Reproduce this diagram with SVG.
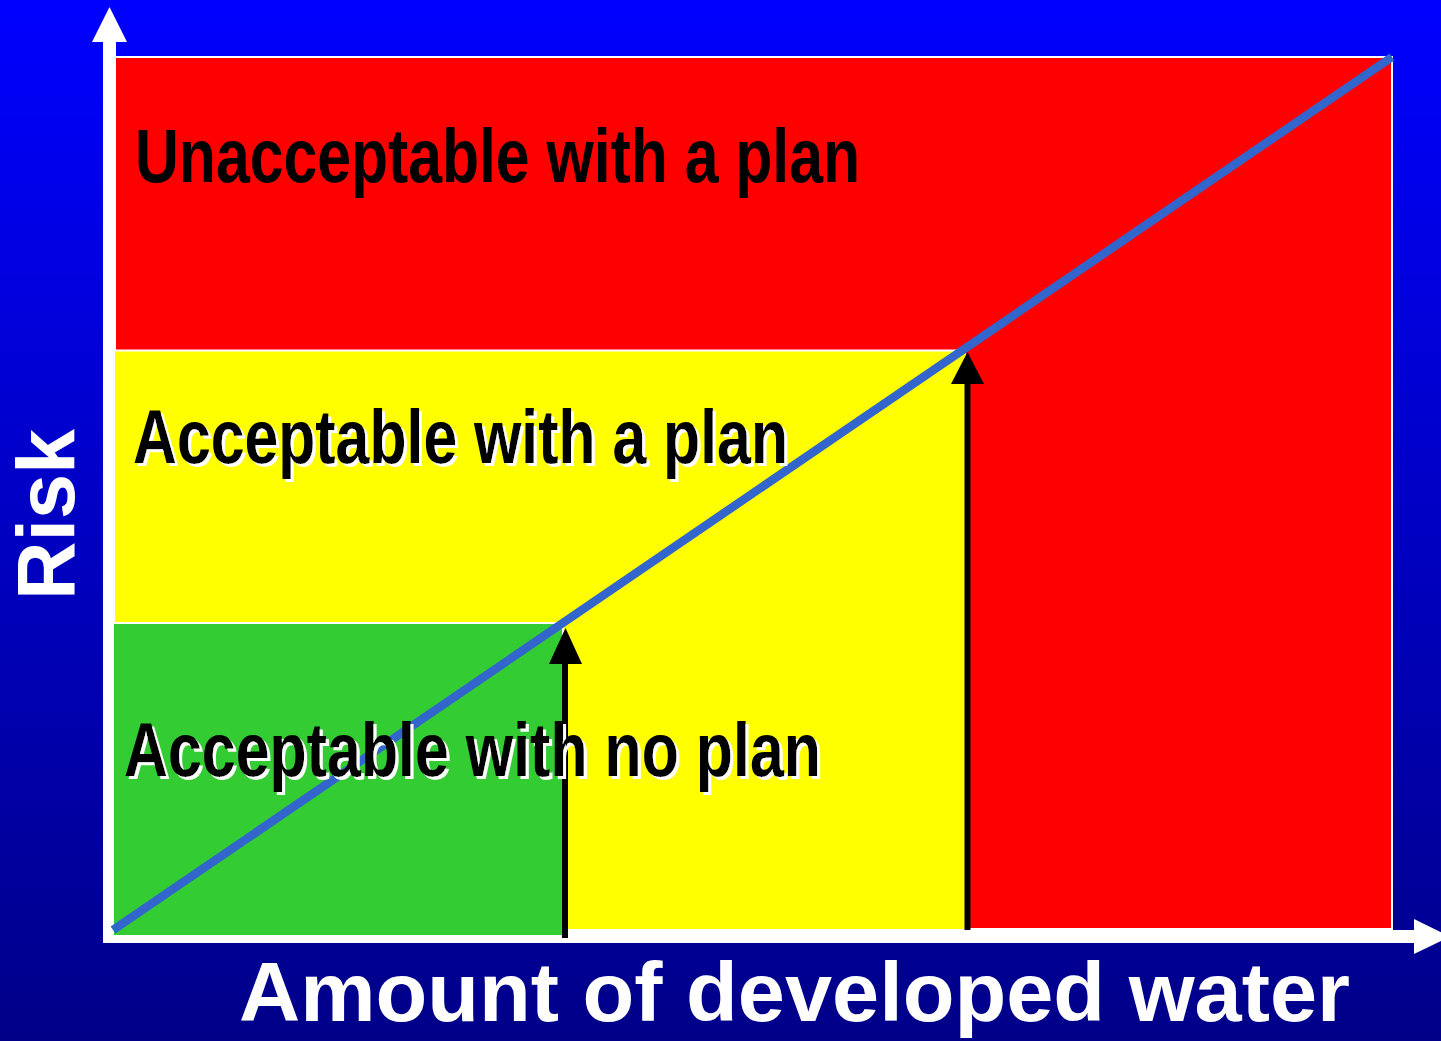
<svg xmlns="http://www.w3.org/2000/svg" width="1441" height="1041" viewBox="0 0 1441 1041">
  <defs>
    <linearGradient id="bg" x1="0" y1="0" x2="0" y2="1">
      <stop offset="0" stop-color="#0000FF"/>
      <stop offset="1" stop-color="#000088"/>
    </linearGradient>
    <filter id="whiteShadow" x="-5%" y="-20%" width="110%" height="140%">
      <feFlood flood-color="#FFFFFF" result="white"/>
      <feComposite in="white" in2="SourceAlpha" operator="in" result="mask"/>
      <feOffset in="mask" dx="3" dy="3" result="shadow"/>
      <feMerge>
        <feMergeNode in="shadow"/>
        <feMergeNode in="SourceGraphic"/>
      </feMerge>
    </filter>
  </defs>
  <style>
    .zone { stroke: #FFFFFF; stroke-width: 2; }
    .axis { stroke: #FFFFFF; stroke-width: 13; fill: none; }
    .axhead { fill: #FFFFFF; }
    .lbl { font-family: "Liberation Sans", Arial, sans-serif; font-weight: bold; font-size: 76px; fill: #000000; }
    .shadowed { filter: url(#whiteShadow); }
    .axlbl { font-family: "Liberation Sans", Arial, sans-serif; font-weight: bold; fill: #FFFFFF; }
    .arrow { stroke: #000000; stroke-width: 6; fill: none; }
    .arrowhead { fill: #000000; }
  </style>
  <rect x="0" y="0" width="1441" height="1041" fill="url(#bg)"/>

  <g id="axes">
    <line class="axis" x1="109.5" y1="943" x2="109.5" y2="40"/>
    <polygon class="axhead" points="92,42 127,42 109.5,7"/>
    <line class="axis" x1="103" y1="936.5" x2="1416" y2="936.5"/>
    <polygon class="axhead" points="1414,919 1414,954 1450,936.5"/>
  </g>

  <g id="zone-unacceptable">
    <rect class="zone" x="115" y="57" width="1277" height="872" fill="#FF0000"/>
  </g>
  <g id="zone-acceptable-plan">
    <rect x="115" y="351" width="851" height="578" fill="#FFFF00"/>
    <line x1="115" y1="350.5" x2="966" y2="350.5" stroke="#FFFFFF" stroke-width="2"/>
  </g>
  <g id="zone-acceptable-noplan">
    <rect class="zone" x="113" y="623" width="450" height="313" fill="#33CC33"/>
  </g>

  <g id="connectors">
    <line x1="113" y1="930" x2="1392" y2="57" stroke="#3366CC" stroke-width="8.5"/>
    <line class="arrow" x1="565" y1="938" x2="565" y2="660"/>
    <polygon class="arrowhead" points="549,664 582,664 565.5,628"/>
    <line class="arrow" x1="967.5" y1="930" x2="967.5" y2="380"/>
    <polygon class="arrowhead" points="951,384 984,384 967.5,352"/>
  </g>

  <g id="label-unacceptable">
    <text class="lbl" x="135" y="182" textLength="725" lengthAdjust="spacingAndGlyphs">Unacceptable with a plan</text>
  </g>
  <g id="label-acceptable-plan">
    <text class="lbl shadowed" x="133" y="463" textLength="655" lengthAdjust="spacingAndGlyphs">Acceptable with a plan</text>
  </g>
  <g id="label-acceptable-noplan">
    <text class="lbl shadowed" x="124" y="776" textLength="697" lengthAdjust="spacingAndGlyphs">Acceptable with no plan</text>
  </g>

  <g id="axis-label-y">
    <text class="axlbl" font-size="81" transform="translate(74,600) rotate(-90)" x="0" y="0">Risk</text>
  </g>
  <g id="axis-label-x">
    <text class="axlbl" font-size="84" x="239" y="1021" textLength="1111" lengthAdjust="spacingAndGlyphs">Amount of developed water</text>
  </g>
</svg>
